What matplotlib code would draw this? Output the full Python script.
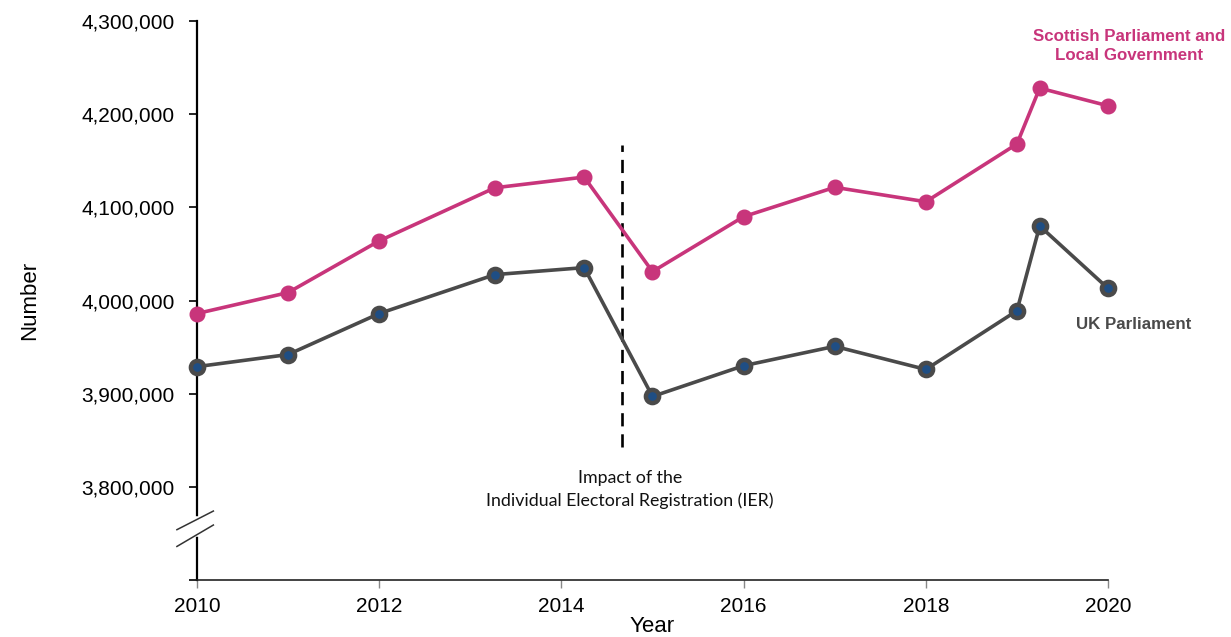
import matplotlib
matplotlib.use("Agg")
import matplotlib.pyplot as plt
from matplotlib.ticker import FuncFormatter, FixedLocator

plt.rcParams['font.family'] = ['Liberation Sans', 'DejaVu Sans']

# Electorate figures (register publication dates expressed as fractional years)
years = [2010, 2011, 2012, 2013.27, 2014.25, 2015, 2016, 2017, 2018, 2019, 2019.25, 2020]
scottish_local = [3986000, 4008500, 4064000, 4121000, 4132500, 4031000, 4090000,
                  4121500, 4106000, 4168000, 4228000, 4209000]
uk_parliament = [3929000, 3942000, 3986000, 4027800, 4035300, 3897000, 3930000,
                 3950800, 3926000, 3989000, 4080000, 4013000]

ier_year = 2014.67
ier_span = [3843000, 4167000]

x_ticks = [2010, 2012, 2014, 2016, 2018, 2020]
y_ticks = [3700000, 3800000, 3900000, 4000000, 4100000, 4200000, 4300000]

pink = '#C8357B'
grey = '#4A4A4A'
navy = '#1F4E84'

fig = plt.figure(figsize=(12.31, 6.37), dpi=100)
ax = fig.add_axes([0.16, 0.0895, 0.7401, 0.8775])

ax.plot(years, scottish_local, color=pink, lw=2.6, marker='o', ms=10.5,
        mfc=pink, mec=pink, zorder=3, solid_capstyle='round', clip_on=False)
ax.plot(years, uk_parliament, color=grey, lw=2.6, marker='o', ms=9.5,
        mfc=navy, mec=grey, mew=3.2, zorder=3, solid_capstyle='round', clip_on=False)

ax.plot([ier_year, ier_year], ier_span, color='black', lw=1.9,
        dashes=(5, 3), zorder=2)

ax.set_xlim(2010, 2020)
ax.set_ylim(3700000, 4300000)

ax.xaxis.set_major_locator(FixedLocator(x_ticks))
ax.yaxis.set_major_locator(FixedLocator(y_ticks))
ax.yaxis.set_major_formatter(FuncFormatter(
    lambda v, p: '' if v == 3700000 else f'{int(v):,}'))

for s in ['top', 'right']:
    ax.spines[s].set_visible(False)
ax.spines['left'].set_linewidth(1.6)
ax.spines['bottom'].set_linewidth(1.2)
ax.spines['left'].set_color('black')
ax.spines['bottom'].set_color('#222222')

ax.tick_params(axis='y', length=6, width=1.2, labelsize=15, pad=10, colors='black')
ax.tick_params(axis='x', length=6, width=1.0, labelsize=15, pad=6,
               color='#888888', labelcolor='black')

ax.set_ylabel('Number', fontsize=16, labelpad=30)
ax.set_xlabel('Year', fontsize=16, labelpad=0)

# Axis break marks on the y axis
ax.plot([2010, 2010], [3749000, 3766000], color='white', lw=4,
        clip_on=False, zorder=4)
ax.plot([2009.78, 2010.18], [3754000, 3774000], color='#333333', lw=1.1,
        clip_on=False, zorder=5)
ax.plot([2009.78, 2010.18], [3736000, 3759000], color='#333333', lw=1.1,
        clip_on=False, zorder=5)

ax.text(2014.75, 3797000, 'Impact of the\nIndividual Electoral Registration (IER)',
        ha='center', va='center', fontsize=12.8, family=['Lato', 'DejaVu Sans'],
        color='#111111', linespacing=1.45)

ax.text(2020.23, 4273000, 'Scottish Parliament and\nLocal Government',
        ha='center', va='center', fontsize=12.2, fontweight='bold', color=pink,
        linespacing=1.3, clip_on=False)
ax.text(2020.28, 3974000, 'UK Parliament', ha='center', va='center',
        fontsize=12.2, fontweight='bold', color=grey, clip_on=False)

fig.savefig('out.png', dpi=100)
